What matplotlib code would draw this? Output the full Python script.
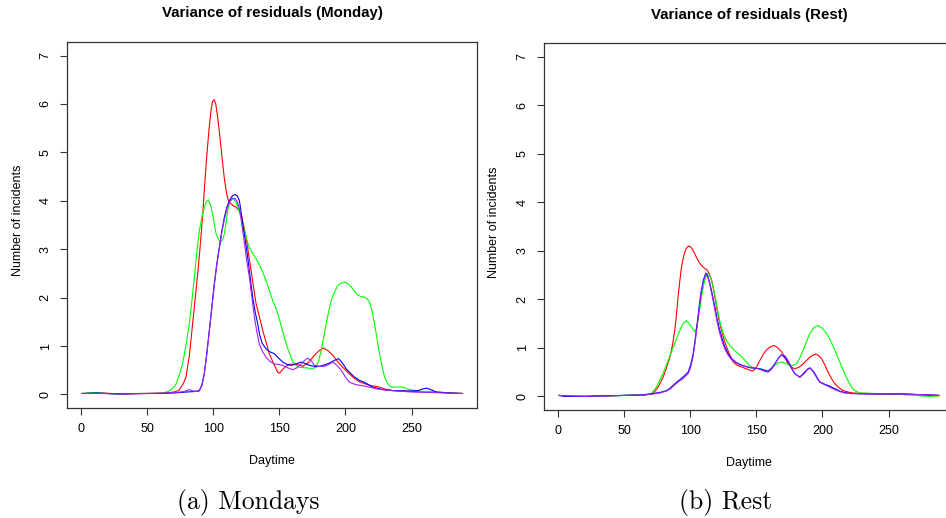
import matplotlib.pyplot as plt

# values (x = daytime slot, y = variance of residuals)
mon_red_x = [1, 15, 30, 50, 65, 70, 74, 77, 79.5, 82, 84.5, 86.5, 88.3, 90, 92, 93.5, 95.1, 96.8, 98.4, 99.6,
             100.7, 102, 103.4, 105, 106.7, 108.3, 109.8, 111, 112.3, 115, 117.3, 119.5, 121.1, 123, 124.9,
             126.8, 128.7, 130.6, 132.5, 135, 137.5, 140, 142.5, 145.5, 148.8, 150.1, 152, 155, 157.7, 162,
             167.8, 172, 176.6, 180, 183.4, 187, 190.5, 194, 198, 202, 205.6, 210, 215.7, 220, 225.8, 230,
             235.9, 245, 255, 265, 275, 288]
mon_red_y = [0.02, 0.03, 0.01, 0.02, 0.03, 0.05, 0.08, 0.2, 0.36, 0.8, 1.46, 2.0, 2.49, 3.0, 3.66, 4.3, 4.9,
             5.45, 5.87, 6.05, 6.09, 6.0, 5.73, 5.35, 4.9, 4.5, 4.21, 4.05, 3.97, 3.9, 3.87, 3.8, 3.73, 3.5,
             3.25, 2.9, 2.56, 2.2, 1.87, 1.6, 1.32, 1.08, 0.84, 0.65, 0.46, 0.44, 0.5, 0.58, 0.62, 0.63, 0.58,
             0.66, 0.81, 0.9, 0.96, 0.9, 0.81, 0.68, 0.56, 0.45, 0.36, 0.27, 0.21, 0.18, 0.15, 0.11, 0.08,
             0.07, 0.06, 0.05, 0.04, 0.02]

mon_green_x = [1, 10, 15, 27, 40, 55, 62, 66, 69.4, 72, 75, 76.9, 79, 82, 84, 85.8, 87.5, 89.6, 92, 94.6,
               96.4, 98, 99.6, 101, 102.2, 104, 106, 107.3, 108.5, 110, 111, 112.8, 114.8, 117.3, 119, 121.1,
               123, 124.9, 127, 129.9, 133, 135, 137.5, 140, 142.5, 145, 147.5, 150.1, 152.6, 155.2, 157.7,
               160.2, 162.7, 165.3, 170, 172.8, 176, 177.9, 179.8, 181.7, 183.6, 185.5, 187.4, 189.3, 191.8,
               194.3, 196.8, 199.3, 201.8, 204.4, 206.9, 209.4, 212, 214.5, 216.4, 218.2, 220.1, 222, 223.9,
               225.8, 227.7, 229.6, 232, 234.7, 238.5, 242.2, 245.4, 248.5, 255, 265, 275, 288]
mon_green_y = [0.02, 0.04, 0.03, 0.0, 0.02, 0.02, 0.03, 0.06, 0.12, 0.22, 0.45, 0.63, 0.95, 1.46, 1.95, 2.42,
               2.9, 3.39, 3.73, 3.97, 4.02, 3.92, 3.73, 3.5, 3.32, 3.2, 3.15, 3.2, 3.32, 3.6, 3.8, 4.0, 4.06,
               3.97, 3.85, 3.66, 3.45, 3.25, 3.05, 2.91, 2.78, 2.67, 2.53, 2.35, 2.15, 1.94, 1.78, 1.55, 1.3,
               1.05, 0.85, 0.68, 0.6, 0.56, 0.55, 0.54, 0.54, 0.56, 0.7, 0.91, 1.18, 1.46, 1.72, 1.94, 2.12,
               2.25, 2.3, 2.32, 2.29, 2.22, 2.13, 2.05, 2.02, 2.01, 1.98, 1.91, 1.72, 1.46, 1.15, 0.84, 0.58,
               0.36, 0.22, 0.15, 0.15, 0.16, 0.13, 0.1, 0.07, 0.05, 0.04, 0.02]

mon_blue_x = [1, 12, 20, 30, 45, 60, 70, 80, 86, 89.6, 91.5, 93.3, 95.2, 97.1, 99, 100.9, 102.8, 104.7, 106.6,
              108.5, 110.4, 112.3, 114.5, 116.6, 118.2, 119.8, 121, 122.3, 124.2, 126.1, 128, 129.9, 131.8,
              133.7, 135, 137, 140, 143, 146.3, 149.5, 152.6, 155.8, 159, 162.7, 166.5, 169.6, 172.8, 176.6,
              180.4, 184.2, 188, 191.4, 194.8, 197.7, 200.6, 203.7, 206.9, 210.7, 214.5, 217.6, 220.7, 228,
              235.9, 248.5, 255, 258, 261.2, 264.5, 268.7, 278, 288]
mon_blue_y = [0.02, 0.03, 0.02, 0.01, 0.02, 0.02, 0.03, 0.05, 0.06, 0.08, 0.2, 0.43, 0.85, 1.32, 1.8, 2.29,
              2.7, 3.04, 3.38, 3.66, 3.87, 4.01, 4.1, 4.13, 4.1, 4.01, 3.8, 3.53, 3.2, 2.84, 2.42, 2.01, 1.7,
              1.46, 1.25, 1.06, 0.94, 0.88, 0.84, 0.75, 0.67, 0.62, 0.6, 0.63, 0.67, 0.64, 0.6, 0.58, 0.58,
              0.61, 0.65, 0.7, 0.74, 0.65, 0.53, 0.44, 0.36, 0.29, 0.25, 0.2, 0.15, 0.1, 0.08, 0.07, 0.08,
              0.11, 0.13, 0.1, 0.05, 0.03, 0.02]

mon_purple_x = [1, 15, 30, 50, 65, 72, 78, 82, 85, 89, 91.5, 93.3, 95.2, 97.1, 99, 100.9, 102.8, 104.7, 106.6,
                108.5, 110.4, 112.3, 114.5, 116.6, 118.2, 119.8, 121.5, 123.5, 125.5, 127.4, 129.3, 131.2,
                133, 135, 137.5, 140, 143, 146.3, 149.5, 152.6, 156.5, 160.2, 163.3, 166.5, 169, 171.5, 174,
                176.6, 180.4, 184.2, 187.4, 190.5, 193.6, 196.8, 200, 203.1, 208.2, 213, 218.3, 225, 235,
                250, 265, 275, 288]
mon_purple_y = [0.02, 0.02, 0.01, 0.02, 0.03, 0.04, 0.06, 0.1, 0.07, 0.06, 0.18, 0.42, 0.82, 1.3, 1.78, 2.27,
                2.68, 3.02, 3.35, 3.62, 3.83, 3.97, 4.04, 4.05, 3.98, 3.85, 3.55, 3.15, 2.75, 2.42, 2.0, 1.6,
                1.3, 1.03, 0.88, 0.77, 0.68, 0.63, 0.62, 0.6, 0.55, 0.51, 0.55, 0.63, 0.7, 0.75, 0.7, 0.6,
                0.58, 0.58, 0.62, 0.67, 0.6, 0.5, 0.36, 0.25, 0.2, 0.18, 0.15, 0.11, 0.08, 0.05, 0.04, 0.03,
                0.02]

rest_red_x = [1, 10, 30, 50, 60, 66, 69, 72, 76, 79.6, 82, 84.7, 86.6, 88.4, 89.7, 90.9, 92.2, 93.5, 95, 96.5,
              98, 99.3, 101, 102.8, 105, 107.3, 110, 112.9, 114.6, 116.2, 118.1, 120, 121.8, 123.7, 125.6,
              127.5, 130, 132.5, 135, 137.6, 141.4, 145.1, 147, 149.5, 152.7, 155.2, 157.7, 160.6, 163.5,
              166.3, 169.1, 171.6, 174.1, 176.6, 179.1, 182.2, 185.4, 188, 190.5, 192.8, 195, 197.2, 199.3,
              201.8, 204.3, 206.8, 209.4, 212.5, 215.6, 219.4, 223.2, 235, 250, 260, 270, 288]
rest_red_y = [0.02, 0.0, 0.01, 0.02, 0.03, 0.03, 0.04, 0.06, 0.2, 0.4, 0.58, 0.81, 1.05, 1.36, 1.7, 2.05, 2.38,
              2.67, 2.88, 3.02, 3.08, 3.1, 3.06, 2.98, 2.85, 2.74, 2.66, 2.6, 2.52, 2.4, 2.15, 1.84, 1.58,
              1.36, 1.17, 1.02, 0.85, 0.71, 0.65, 0.62, 0.58, 0.54, 0.52, 0.57, 0.74, 0.86, 0.96, 1.02, 1.05,
              1.0, 0.92, 0.8, 0.67, 0.6, 0.57, 0.6, 0.67, 0.74, 0.81, 0.85, 0.87, 0.84, 0.78, 0.65, 0.5, 0.37,
              0.26, 0.18, 0.12, 0.09, 0.07, 0.06, 0.05, 0.05, 0.04, 0.02]

rest_green_x = [1, 20, 40, 55, 65, 70.8, 74, 77.1, 80.2, 83.4, 85.9, 88.4, 90.3, 92.2, 94.7, 97.3, 99.2, 101.1,
                103.6, 104.8, 106, 107.3, 108.6, 109.9, 111.1, 113.6, 115.5, 117.4, 119.3, 121.2, 123, 124.9,
                127.5, 130, 133.2, 136.3, 139.5, 142.6, 145.1, 148, 152.7, 156, 159, 161.5, 164, 166.5,
                169.1, 172.3, 175.4, 178, 180.4, 183, 185.4, 188, 190.5, 193.6, 196.8, 200, 203.1, 206.3,
                209.4, 212.5, 215.6, 218.8, 222, 225, 228.3, 240, 255, 265, 275, 280, 288]
rest_green_y = [0.02, 0.0, 0.01, 0.03, 0.04, 0.06, 0.17, 0.33, 0.52, 0.74, 0.92, 1.09, 1.23, 1.36, 1.5, 1.56,
                1.5, 1.43, 1.33, 1.4, 1.57, 1.8, 2.05, 2.25, 2.4, 2.54, 2.45, 2.26, 2.0, 1.71, 1.48, 1.3, 1.15,
                1.05, 0.96, 0.88, 0.8, 0.71, 0.63, 0.59, 0.57, 0.55, 0.52, 0.57, 0.64, 0.69, 0.71, 0.68, 0.64,
                0.64, 0.67, 0.8, 0.95, 1.13, 1.3, 1.42, 1.46, 1.4, 1.3, 1.14, 0.95, 0.75, 0.54, 0.35, 0.19,
                0.11, 0.07, 0.06, 0.05, 0.03, 0.01, 0.0, 0.01]

rest_blue_x = [1, 5, 20, 35, 50, 65, 72, 77, 82.2, 85.3, 88.4, 91.5, 94.7, 96.6, 98.5, 100.4, 102.3, 103.8,
               105.3, 106.7, 108.1, 110, 111.9, 113.4, 114.9, 116.8, 118.7, 120.5, 122.4, 124.3, 126.2, 128.7,
               131.3, 134.4, 137.6, 141.4, 145.1, 148.9, 152.7, 156, 159, 161.5, 164, 166.5, 169.1, 171.6,
               174.1, 176.6, 179.1, 182.9, 186.7, 188.6, 190.5, 192.4, 194.3, 196.2, 198, 201.8, 205.6,
               209.4, 213.1, 216.9, 220.7, 235, 260, 270, 280, 288]
rest_blue_y = [0.02, 0.0, 0.0, 0.01, 0.02, 0.03, 0.06, 0.08, 0.12, 0.18, 0.26, 0.33, 0.4, 0.45, 0.5, 0.65, 0.88,
               1.17, 1.5, 1.82, 2.12, 2.4, 2.54, 2.48, 2.33, 2.1, 1.84, 1.58, 1.36, 1.18, 1.02, 0.88, 0.78,
               0.71, 0.66, 0.62, 0.59, 0.58, 0.57, 0.54, 0.52, 0.58, 0.67, 0.78, 0.86, 0.8, 0.71, 0.58, 0.47,
               0.4, 0.5, 0.56, 0.59, 0.54, 0.47, 0.38, 0.3, 0.25, 0.21, 0.16, 0.11, 0.08, 0.06, 0.05, 0.05,
               0.04, 0.03, 0.02]

rest_purple_x = [1, 20, 35, 50, 65, 72, 77, 82.2, 85.3, 88.4, 91.5, 94.7, 96.6, 98.5, 100.4, 102.3, 103.8,
                 105.3, 106.7, 108.1, 110, 111.9, 113.4, 114.9, 116.8, 118.7, 120.5, 122.4, 124.3, 126.2,
                 128.7, 131.3, 134.4, 137.6, 141.4, 145.1, 148.9, 152.7, 156, 159, 161.5, 164, 166.5, 169.1,
                 171.6, 174.1, 176.6, 179.1, 182.9, 186.7, 188.6, 190.5, 192.4, 194.3, 196.2, 198, 201.8,
                 205.6, 209.4, 213.1, 216.9, 220.7, 235, 260, 270, 280, 288]
rest_purple_y = [0.02, 0.0, 0.01, 0.02, 0.03, 0.05, 0.07, 0.11, 0.16, 0.24, 0.31, 0.37, 0.42, 0.47, 0.6, 0.83,
                 1.12, 1.45, 1.78, 2.08, 2.38, 2.52, 2.46, 2.3, 2.05, 1.78, 1.52, 1.3, 1.12, 0.98, 0.85, 0.76,
                 0.7, 0.65, 0.62, 0.6, 0.59, 0.56, 0.52, 0.5, 0.56, 0.66, 0.78, 0.86, 0.84, 0.74, 0.6, 0.47,
                 0.39, 0.48, 0.55, 0.58, 0.53, 0.45, 0.36, 0.29, 0.24, 0.19, 0.14, 0.1, 0.07, 0.06, 0.05,
                 0.05, 0.04, 0.03, 0.02]

x_ticks = [0, 50, 100, 150, 200, 250]
y_ticks = [0, 1, 2, 3, 4, 5, 6, 7]

plt.rcParams['font.family'] = ['Liberation Sans', 'DejaVu Sans']

W, H = 946, 518


def px_box(l, t, r, b):
    # pixel box (from top-left) -> figure fraction rect
    return [l / W, 1 - b / H, (r - l) / W, (b - t) / H]


def fx(x):
    return x / W


def fy(y):
    return 1 - y / H


fig = plt.figure(figsize=(W / 100, H / 100), dpi=100)

panels = [
    dict(box=(67, 42, 477, 408), title="Variance of residuals (Monday)", title_xy=(272, 13),
         xlab_xy=(272, 461), ylab_xy=(18, 220), caption="(a) Mondays", cap_xy=(248, 503),
         series=[(mon_red_x, mon_red_y, '#FF0000'), (mon_green_x, mon_green_y, '#00FF00'),
                 (mon_blue_x, mon_blue_y, '#0000FF'), (mon_purple_x, mon_purple_y, '#A020F0')]),
    dict(box=(544, 43, 954, 410), title="Variance of residuals (Rest)", title_xy=(749, 15),
         xlab_xy=(749, 463), ylab_xy=(494, 222), caption="(b) Rest", cap_xy=(726, 503),
         series=[(rest_red_x, rest_red_y, '#FF0000'), (rest_green_x, rest_green_y, '#00FF00'),
                 (rest_blue_x, rest_blue_y, '#0000FF'), (rest_purple_x, rest_purple_y, '#A020F0')]),
]

for p in panels:
    ax = fig.add_axes(px_box(*p['box']))
    for xs, ys, col in p['series']:
        ax.plot(xs, ys, color=col, lw=0.8)

    # R style: 4% padding around the data range
    ax.set_xlim(1 - 0.04 * 287, 288 + 0.04 * 287)
    ax.set_ylim(-0.28, 7.28)
    ax.set_xticks(x_ticks)
    ax.set_yticks(y_ticks)
    ax.tick_params(direction='out', length=5, width=0.8, color='#333333', labelsize=9, pad=6)
    for lab in ax.get_yticklabels():
        lab.set_rotation(90)
        lab.set_va('center')
    for sp in ax.spines.values():
        sp.set_color('#333333')
        sp.set_linewidth(0.9)

    fig.text(fx(p['title_xy'][0]), fy(p['title_xy'][1]), p['title'], ha='center', va='center',
             fontsize=10.8, fontweight='bold')
    fig.text(fx(p['xlab_xy'][0]), fy(p['xlab_xy'][1]), "Daytime", ha='center', va='center', fontsize=9)
    fig.text(fx(p['ylab_xy'][0]), fy(p['ylab_xy'][1]), "Number of incidents", ha='center', va='center',
             rotation=90, fontsize=9)
    fig.text(fx(p['cap_xy'][0]), fy(p['cap_xy'][1]), p['caption'], ha='center', va='center',
             fontsize=18.5, family='cmr10')

fig.savefig('out.png', dpi=100)
